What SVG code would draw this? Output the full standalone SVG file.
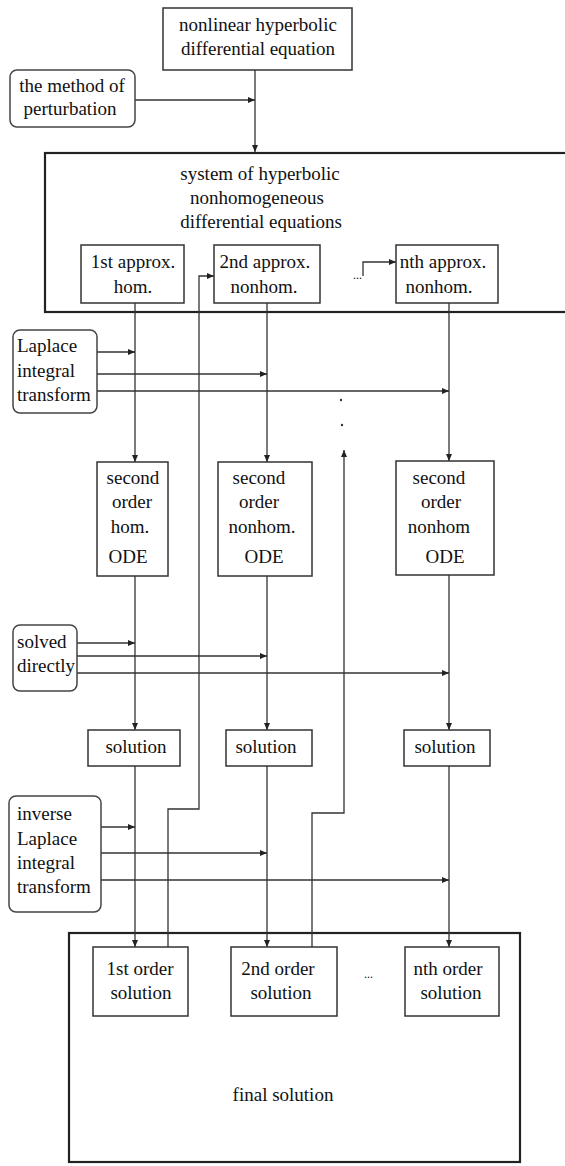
<svg xmlns="http://www.w3.org/2000/svg" width="565" height="1166" viewBox="0 0 565 1166">
  <defs>
    <marker id="arr" markerUnits="userSpaceOnUse" markerWidth="8" markerHeight="6" refX="7" refY="3" orient="auto">
      <path d="M0,0 L7,3 L0,6 z" fill="#222"/>
    </marker>
    <style>
      text { font-family: 'Liberation Serif', serif; font-size: 19px; fill: #111; }
      .c { text-anchor: middle; }
      .box { fill: #fff; stroke: #333; stroke-width: 1.5; }
      .frame { fill: none; stroke: #222; stroke-width: 2.2; }
      .round { fill: #fff; stroke: #444; stroke-width: 1.5; }
      .arr { fill: none; stroke: #333; stroke-width: 1.3; marker-end: url(#arr); }
    </style>
  </defs>
  <rect width="565" height="1166" fill="#fff"/>

  <g font-family="Liberation Serif, serif">
  <!-- large container frames -->
  <g id="system">
    <rect class="frame" x="45" y="153" width="530" height="159"/>
    <text class="c" x="260" y="180">system of hyperbolic</text>
    <text class="c" x="257" y="204">nonhomogeneous</text>
    <text class="c" x="261" y="228">differential equations</text>
    <text x="353" y="279" style="font-size:12px">...</text>
  </g>
  <g id="final">
    <rect class="frame" x="69" y="933" width="451" height="229"/>
    <text class="c" x="283" y="1101">final solution</text>
    <text x="364" y="978" style="font-size:12px">...</text>
  </g>

  <!-- connectors -->
  <g id="connectors">
    <path class="arr" d="M255,70 V152"/>
    <path class="arr" d="M135,100 H255"/>

    <path class="arr" d="M135,303 V462"/>
    <path class="arr" d="M267,303 V462"/>
    <path class="arr" d="M449,303 V461"/>
    <path class="arr" d="M135,576 V730"/>
    <path class="arr" d="M267,576 V730"/>
    <path class="arr" d="M449,575 V730"/>
    <path class="arr" d="M135,766 V947"/>
    <path class="arr" d="M267,766 V947"/>
    <path class="arr" d="M449,766 V947"/>

    <path class="arr" d="M97,352 H135"/>
    <path class="arr" d="M97,374 H267"/>
    <path class="arr" d="M97,391 H449"/>

    <path class="arr" d="M77,643 H135"/>
    <path class="arr" d="M77,656 H267"/>
    <path class="arr" d="M77,673 H449"/>

    <path class="arr" d="M101,827 H135"/>
    <path class="arr" d="M101,853 H267"/>
    <path class="arr" d="M101,880 H449"/>

    <path class="arr" d="M168,947 V809 H199 V276 H214"/>
    <path class="arr" d="M312,947 V813 H344 V450"/>
    <path class="arr" d="M363,276 V262 H396"/>
    <circle cx="341" cy="400" r="1.2" fill="#333"/>
    <circle cx="342" cy="425" r="1.2" fill="#333"/>
  </g>

  <!-- nodes -->
  <g id="n-nonlinear">
    <rect class="box" x="163" y="8" width="189" height="62"/>
    <text class="c" x="258" y="31">nonlinear hyperbolic</text>
    <text class="c" x="258" y="55">differential equation</text>
  </g>
  <g id="n-perturbation">
    <rect class="round" x="10" y="70" width="125" height="57" rx="7"/>
    <text class="c" x="72" y="92">the method of</text>
    <text class="c" x="70" y="115">perturbation</text>
  </g>

  <g id="n-approx1">
    <rect class="box" x="81" y="245" width="103" height="58"/>
    <text class="c" x="133" y="268">1st approx.</text>
    <text class="c" x="133" y="293">hom.</text>
  </g>
  <g id="n-approx2">
    <rect class="box" x="214" y="245" width="106" height="58"/>
    <text class="c" x="265" y="268">2nd approx.</text>
    <text class="c" x="264" y="293">nonhom.</text>
  </g>
  <g id="n-approxn">
    <rect class="box" x="396" y="245" width="102" height="58"/>
    <text class="c" x="443" y="268">nth approx.</text>
    <text class="c" x="439" y="293">nonhom.</text>
  </g>

  <g id="n-laplace">
    <rect class="round" x="13" y="330" width="84" height="83" rx="7"/>
    <text x="17" y="352">Laplace</text>
    <text x="17" y="377">integral</text>
    <text x="17" y="401">transform</text>
  </g>

  <g id="n-ode1">
    <rect class="box" x="97" y="462" width="71" height="114"/>
    <text class="c" x="133" y="484">second</text>
    <text class="c" x="132" y="508">order</text>
    <text class="c" x="130" y="533">hom.</text>
    <text class="c" x="128" y="563">ODE</text>
  </g>
  <g id="n-ode2">
    <rect class="box" x="218" y="462" width="94" height="114"/>
    <text class="c" x="259" y="484">second</text>
    <text class="c" x="259" y="508">order</text>
    <text class="c" x="262" y="533">nonhom.</text>
    <text class="c" x="264" y="563">ODE</text>
  </g>
  <g id="n-oden">
    <rect class="box" x="396" y="461" width="98" height="114"/>
    <text class="c" x="439" y="484">second</text>
    <text class="c" x="441" y="508">order</text>
    <text class="c" x="439" y="533">nonhom</text>
    <text class="c" x="445" y="563">ODE</text>
  </g>

  <g id="n-solved">
    <rect class="round" x="13" y="625" width="64" height="66" rx="7"/>
    <text x="17" y="648">solved</text>
    <text x="17" y="672">directly</text>
  </g>

  <g id="n-sol1">
    <rect class="box" x="88" y="730" width="92" height="36"/>
    <text class="c" x="136" y="753">solution</text>
  </g>
  <g id="n-sol2">
    <rect class="box" x="226" y="730" width="86" height="36"/>
    <text class="c" x="266" y="753">solution</text>
  </g>
  <g id="n-soln">
    <rect class="box" x="404" y="730" width="86" height="36"/>
    <text class="c" x="445" y="753">solution</text>
  </g>

  <g id="n-inverse">
    <rect class="round" x="9" y="796" width="92" height="116" rx="7"/>
    <text x="17" y="820">inverse</text>
    <text x="17" y="845">Laplace</text>
    <text x="17" y="869">integral</text>
    <text x="17" y="893">transform</text>
  </g>

  <g id="n-order1">
    <rect class="box" x="93" y="947" width="95" height="69"/>
    <text class="c" x="140" y="975">1st order</text>
    <text class="c" x="141" y="999">solution</text>
  </g>
  <g id="n-order2">
    <rect class="box" x="231" y="947" width="106" height="69"/>
    <text class="c" x="278" y="975">2nd order</text>
    <text class="c" x="281" y="999">solution</text>
  </g>
  <g id="n-ordern">
    <rect class="box" x="405" y="947" width="94" height="69"/>
    <text class="c" x="448" y="975">nth order</text>
    <text class="c" x="451" y="999">solution</text>
  </g>
  </g>
</svg>
